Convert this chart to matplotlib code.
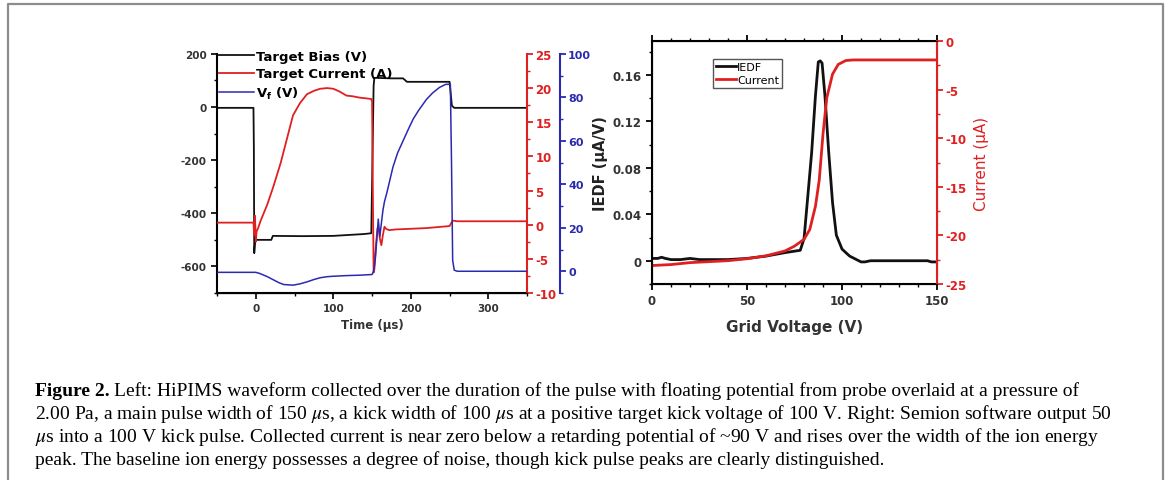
import numpy as np
import matplotlib
matplotlib.use('Agg')
import matplotlib.pyplot as plt
from matplotlib.lines import Line2D
from matplotlib.ticker import MultipleLocator

plt.rcParams['font.family'] = ['DejaVu Sans']
plt.rcParams['axes.unicode_minus'] = False
plt.rcParams['mathtext.fontset'] = 'stix'

# left panel: HiPIMS waveform (time in us)
t_bias = [-50, -3, -2.5, -2, -1, 0, 20, 22, 60, 100, 140, 149, 150.5, 152, 153, 175, 190, 195, 250, 251.5, 253, 256, 350]
v_bias = [-3, -3, -150, -550, -510, -500, -500, -485, -486, -485, -478, -475, -200, 80, 110, 108, 108, 95, 95, 50, 5, -3, -3]

t_cur = [-50, -3, -2, -1, 0, 1, 3, 6, 15, 23, 32, 40, 48, 57, 66, 75, 83, 92, 100, 108, 117, 125, 134, 142, 149,
         150, 151, 152, 153, 155, 157, 159, 160, 162, 164, 166, 168, 172, 180, 200, 220, 240, 250, 252, 254, 260, 350]
v_cur = [0.3, 0.3, -1.5, 1.3, -2.5, -1.0, -0.5, 0.5, 3.0, 5.7, 9, 12.5, 16, 17.8, 19.1, 19.6, 19.9, 20.0, 19.9, 19.5, 18.9, 18.8, 18.6, 18.5, 18.4,
         18, 5, -7, -6.5, -3, -0.5, -1, -2, -3, -1.5, -0.3, -0.6, -0.8, -0.7, -0.6, -0.5, -0.3, -0.2, 0.2, 0.6, 0.5, 0.5]

t_vf = [-50, 0, 5, 15, 23, 30, 36, 48, 57, 66, 75, 83, 92, 100, 117, 135, 150, 152, 154, 156, 158, 160, 162, 164, 166,
        169, 173, 177, 183, 190, 197, 203, 210, 220, 228, 237, 245, 251, 252.5, 254, 256, 260, 350]
v_vf = [-0.5, -0.5, -1, -2.5, -4, -5.3, -6.1, -6.4, -5.8, -4.9, -3.8, -3, -2.5, -2.3, -2, -1.8, -1.5, 0, 5, 14, 24, 16, 22, 28, 32,
        36, 42, 48, 54.5, 60, 65.5, 70, 74, 79, 82, 84.6, 86, 86, 50, 5, 0.5, 0, 0]

# right panel: Semion output
grid_v = [0, 3, 5, 7, 10, 15, 20, 25, 30, 40, 50, 60, 70, 78, 80, 82, 84, 86, 87.5, 88.5, 89.5, 91, 93, 95, 97, 100, 104, 110, 112, 115, 145, 147, 150]
iedf = [0.002, 0.002, 0.003, 0.002, 0.001, 0.001, 0.002, 0.001, 0.001, 0.001, 0.002, 0.004, 0.007, 0.009,
        0.019, 0.056, 0.093, 0.142, 0.171, 0.172, 0.170, 0.142, 0.093, 0.050, 0.022, 0.010, 0.004, -0.001, -0.001, 0.0, 0.0, -0.001, -0.001]

grid_v2 = [0, 10, 20, 30, 40, 50, 60, 70, 75, 80, 83, 86, 88, 90, 92, 95, 98, 102, 106, 150]
current = [-23.1, -23.0, -22.8, -22.7, -22.6, -22.4, -22.1, -21.6, -21.1, -20.4, -19.4, -17.0, -14.3, -9.5, -5.8, -3.4, -2.4, -2.0, -1.94, -1.94]

black = '#111111'
red = '#e02020'
blue = '#2a2ab0'

fig = plt.figure(figsize=(11.7, 4.81), dpi=100)

# ---- left panel ----
ax = fig.add_axes([0.1855, 0.3888, 0.265, 0.497])
ax2 = ax.twinx()
ax3 = ax.twinx()
ax3.spines['right'].set_position(('outward', 24))

l1, = ax.plot(t_bias, v_bias, color=black, lw=1.3)
l2, = ax2.plot(t_cur, v_cur, color=red, lw=1.3)
l3, = ax3.plot(t_vf, v_vf, color=blue, lw=1.1)

ax.set_xlim(-50, 350)
ax.set_ylim(-700, 200)
ax2.set_ylim(-10, 25)
ax3.set_ylim(-10, 100)
ax.xaxis.set_major_locator(MultipleLocator(100))
ax.xaxis.set_minor_locator(MultipleLocator(50))
ax.yaxis.set_major_locator(MultipleLocator(200))
ax.yaxis.set_minor_locator(MultipleLocator(100))
ax2.yaxis.set_major_locator(MultipleLocator(5))
ax2.yaxis.set_minor_locator(MultipleLocator(2.5))
ax3.yaxis.set_major_locator(MultipleLocator(20))
ax3.yaxis.set_minor_locator(MultipleLocator(10))

for a in (ax, ax2, ax3):
    a.spines['top'].set_visible(False)
ax.spines['right'].set_visible(False)
ax2.spines['left'].set_visible(False)
ax3.spines['left'].set_visible(False)
ax.spines['left'].set_linewidth(1.5)
ax.spines['bottom'].set_linewidth(1.5)
ax2.spines['right'].set_color(red)
ax2.spines['right'].set_linewidth(1.5)
ax3.spines['right'].set_color(blue)
ax3.spines['right'].set_linewidth(1.5)

ax.tick_params(which='major', length=4, width=1.3, labelsize=7.5, color=black, labelcolor='#333333')
ax.tick_params(which='minor', length=2.5, width=1)
ax2.tick_params(which='major', length=4, width=1.3, labelsize=8.5, color=red, labelcolor=red, pad=2)
ax2.tick_params(which='minor', length=2.5, width=1, color=red)
ax3.tick_params(which='major', length=4, width=1.3, labelsize=8, color=blue, labelcolor=blue, pad=1.5)
ax3.tick_params(which='minor', length=2.5, width=1, color=blue)
for a in (ax, ax2, ax3):
    for lab in a.get_xticklabels() + a.get_yticklabels():
        lab.set_fontweight('bold')

ax.set_xlabel('Time (\u03bcs)', fontsize=8.5, fontweight='bold', color='#333333', labelpad=3)
ax.legend([l1, l2, l3], ['Target Bias (V)', 'Target Current (A)', r'$\mathregular{V_f}$ (V)'],
          loc='upper left', bbox_to_anchor=(-0.01, 1.04), frameon=False, borderaxespad=0,
          handlelength=2.6, handletextpad=0.2, labelspacing=0.35,
          prop=dict(family='DejaVu Sans', weight='bold', size=9.5))

# ---- right panel ----
bx = fig.add_axes([0.5573, 0.4075, 0.2436, 0.505])
bx2 = bx.twinx()
m1, = bx.plot(grid_v, iedf, color=black, lw=2)
m2, = bx2.plot(grid_v2, current, color=red, lw=2)
bx.set_xlim(0, 150)
bx.set_ylim(-0.02, 0.189)
bx2.set_ylim(-25, 0)
bx.xaxis.set_major_locator(MultipleLocator(50))
bx.xaxis.set_minor_locator(MultipleLocator(10))
bx.yaxis.set_minor_locator(MultipleLocator(0.02))
bx2.yaxis.set_major_locator(MultipleLocator(5))
bx2.yaxis.set_minor_locator(MultipleLocator(2.5))
bx.set_yticks([0, 0.04, 0.08, 0.12, 0.16])
bx.set_yticklabels(['0', '0.04', '0.08', '0.12', '0.16'])

for sp in ('left', 'bottom', 'top'):
    bx.spines[sp].set_linewidth(1.5)
bx2.spines['right'].set_color(red)
bx2.spines['right'].set_linewidth(1.5)
bx.tick_params(which='major', length=4, width=1.3, labelsize=8.5, labelcolor='#333333')
bx.tick_params(which='minor', length=2.5, width=1)
bx.tick_params(axis='x', which='both', top=True)
bx2.tick_params(which='major', length=4, width=1.3, labelsize=8.5, color=red, labelcolor=red, pad=2)
bx2.tick_params(which='minor', length=2.5, width=1, color=red)
for a in (bx, bx2):
    for lab in a.get_xticklabels() + a.get_yticklabels():
        lab.set_fontweight('bold')

bx.set_xlabel('Grid Voltage (V)', fontsize=11, fontweight='bold', color='#333333', labelpad=8)
bx.set_ylabel('IEDF (\u03bcA/V)', fontsize=10.5, fontweight='bold', color='#222222', labelpad=3)
bx2.set_ylabel('Current (\u03bcA)', fontsize=11, color=red, labelpad=5)
bx.legend([m1, m2], ['IEDF', 'Current'], loc='upper left', bbox_to_anchor=(0.215, 0.925),
          fancybox=False, edgecolor='#555555', framealpha=1, borderaxespad=0, borderpad=0.25,
          handlelength=1.8, handletextpad=0.1, labelspacing=0.25,
          prop=dict(family='DejaVu Sans', size=8))

# ---- caption ----
cap_font = ['Liberation Serif', 'DejaVu Serif']
cap_size = 14
lines = [
    'Left: HiPIMS waveform collected over the duration of the pulse with floating potential from probe overlaid at a pressure of',
    r'2.00 Pa, a main pulse width of 150 $\mu$s, a kick width of 100 $\mu$s at a positive target kick voltage of 100 V. Right: Semion software output 50',
    r'$\mu$s into a 100 V kick pulse. Collected current is near zero below a retarding potential of ~90 V and rises over the width of the ion energy',
    'peak. The baseline ion energy possesses a degree of noise, though kick pulse peaks are clearly distinguished.',
]
x0 = 35 / 1170
ys = [396, 419, 442, 465]
head = fig.text(x0, 1 - ys[0] / 481, 'Figure 2.', family=cap_font, size=cap_size, weight='bold', va='baseline')
fig.canvas.draw()
bb = head.get_window_extent(fig.canvas.get_renderer())
fig.text(bb.x1 / 1170 + 4 / 1170, 1 - ys[0] / 481, lines[0], family=cap_font, size=cap_size, va='baseline')
for y, s in zip(ys[1:], lines[1:]):
    fig.text(x0, 1 - y / 481, s, family=cap_font, size=cap_size, va='baseline')

# gray frame, open at the bottom
xl, xr, yt = 8 / 1170, 1163 / 1170, 1 - 5 / 481
fig.add_artist(Line2D([xl, xl, xr, xr], [0, yt, yt, 0], transform=fig.transFigure, color='#8c8c8c', lw=1.6))

fig.savefig('out.png', dpi=100)
